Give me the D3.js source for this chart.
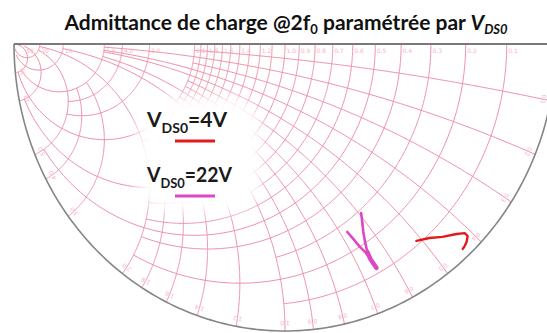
<!DOCTYPE html>
<html>
<head>
<meta charset="utf-8">
<script src="https://cdn.jsdelivr.net/npm/d3@7"></script>
<style>
  body { margin: 0; background: #fff; }
  svg { display: block; }
</style>
</head>
<body>
<svg id="chart" width="547" height="333"></svg>
<script>
// ---- data -------------------------------------------------------------
// Title pieces
const titleMain = "Admittance de charge @2f";
const titleSub = "0";
const titleMid = " paramétrée par ";
const titleVar = "V";
const titleVarSub = "DS0";

// Legend entries
const legendNames = ["V", "V"];
const legendSubs = ["DS0", "DS0"];
const legendValues = ["=4V", "=22V"];
const legendColors = ["#e3191c", "#dd47c4"];

// Measured load traces, reflection coefficient points [Re Γ, Im Γ]
const traceVds4 = [
  [0.485, -0.686], [0.533, -0.676], [0.581, -0.672], [0.633, -0.662],
  [0.663, -0.659], [0.674, -0.669], [0.670, -0.690], [0.663, -0.704],
  [0.656, -0.714]
];
const traceVds22Right = [
  [0.281, -0.589], [0.285, -0.620], [0.289, -0.655], [0.296, -0.693],
  [0.304, -0.725], [0.315, -0.749], [0.337, -0.780]
];
const traceVds22Left = [
  [0.230, -0.655], [0.252, -0.679], [0.274, -0.704], [0.296, -0.725],
  [0.307, -0.739]
];

// Smith grid: constant-conductance circles [g, last susceptance drawn]
const conductanceGrid = [
  [0.1, 1], [0.2, 2], [0.3, 1], [0.4, 2], [0.5, 5], [0.6, 2], [0.7, 1], [0.8, 2], [0.9, 1],
  [1.0, 10], [1.1, 1], [1.2, 2], [1.3, 1], [1.4, 2], [1.5, 1], [1.6, 2], [1.7, 1], [1.8, 2],
  [1.9, 1], [2.0, 20], [3.0, 5], [4.0, 5], [5.0, 20], [10, 50], [20, Infinity]
];
// constant-susceptance arcs [b, last conductance drawn]
const susceptanceGrid = [
  [0.1, 2], [0.2, 5], [0.3, 2], [0.4, 5], [0.5, 5], [0.6, 2], [0.7, 2], [0.8, 5], [0.9, 2],
  [1.0, 10], [1.2, 2], [1.4, 2], [1.6, 2], [1.8, 2], [2.0, 20], [3.0, 5], [4.0, 5],
  [5.0, 20], [10, 50], [20, Infinity]
];
// Scale labels
const axisLabels = ["0.1", "0.2", "0.3", "0.4", "0.5", "0.6", "0.7", "0.8", "0.9", "1.0",
  "1.2", "1.4", "1.6", "1.8", "2.0", "3.0", "4.0", "5.0", "10", "20", "50"];
const rimLabels = ["0.1", "0.2", "0.3", "0.4", "0.5", "0.6", "0.7", "0.8", "0.9", "1.0",
  "1.2", "1.4", "1.6", "1.8", "2.0", "3.0", "4.0", "5.0", "10", "20"];

// ---- drawing ----------------------------------------------------------
const svg = d3.select("#chart");
const W = 547;

// Γ-plane scales (lower half of the chart)
const X = d3.scaleLinear().domain([-1, 1]).range([14, 556]);
const Y = d3.scaleLinear().domain([0, -1]).range([44, 331]);

// reflection coefficient of a normalized admittance y = g + jb
function gammaOf(g, b) {
  const D = (1 + g) * (1 + g) + b * b;
  return [(1 - g * g - b * b) / D, -2 * b / D];
}
const path = d3.line().x(d => X(d[0])).y(d => Y(d[1]));

const defs = svg.append("defs");
defs.append("filter").attr("id", "soft")
  .attr("x", "-30%").attr("y", "-30%").attr("width", "160%").attr("height", "160%")
  .append("feGaussianBlur").attr("stdDeviation", 7);

const grid = svg.append("g")
  .attr("fill", "none")
  .attr("stroke", "#ef8fa9")
  .attr("stroke-width", 1);

conductanceGrid.forEach(([g, bMax]) => {
  const tMax = Math.atan(bMax);
  const pts = d3.range(0, 201).map(i => gammaOf(g, Math.tan(tMax * i / 200)));
  grid.append("path").attr("d", path(pts));
});
susceptanceGrid.forEach(([b, gMax]) => {
  const tMax = Math.atan(gMax);
  const pts = d3.range(0, 201).map(i => gammaOf(Math.tan(tMax * i / 200), b));
  grid.append("path").attr("d", path(pts));
});

// scale labels along the real axis and the rim
const lab = svg.append("g")
  .attr("font-family", "DejaVu Sans, sans-serif")
  .attr("font-size", 6)
  .attr("fill", "#f5b6c6");
axisLabels.forEach(t => {
  const p = gammaOf(+t, 0);
  lab.append("text").attr("x", X(p[0]) + 1.5).attr("y", 53).text(t);
});
rimLabels.forEach(t => {
  const p = gammaOf(0, +t);
  const px = X(p[0] * 0.965), py = Y(p[1] * 0.965);
  const ang = Math.atan2(Y(p[1]) - Y(0), X(p[0]) - X(0)) * 180 / Math.PI + 90;
  lab.append("text").attr("x", px).attr("y", py).attr("text-anchor", "middle")
    .attr("transform", `rotate(${ang},${px},${py})`).text(t);
});

// rim of the chart
const rim = d3.range(0, 181).map(i => [Math.cos(Math.PI * i / 180), -Math.sin(Math.PI * i / 180)]);
svg.append("path").attr("d", path(rim))
  .attr("fill", "none").attr("stroke", "#858585").attr("stroke-width", 1.6);
// real axis
svg.append("line")
  .attr("x1", X(-1)).attr("x2", W).attr("y1", Y(0)).attr("y2", Y(0))
  .attr("stroke", "#7a7a7a").attr("stroke-width", 2);

// clear patch behind the legend
svg.append("rect")
  .attr("x", 138).attr("y", 97).attr("width", 122).attr("height", 115)
  .attr("rx", 30).attr("fill", "#fff").attr("filter", "url(#soft)");

// traces
svg.append("path").attr("d", path(traceVds4))
  .attr("fill", "none").attr("stroke", legendColors[0]).attr("stroke-width", 2.4)
  .attr("stroke-linecap", "round").attr("stroke-linejoin", "round");
[traceVds22Right, traceVds22Left].forEach(tr => {
  svg.append("path").attr("d", path(tr))
    .attr("fill", "none").attr("stroke", legendColors[1]).attr("stroke-width", 2.6)
    .attr("stroke-linecap", "round").attr("stroke-linejoin", "round");
});
const tail = traceVds22Right.slice(-3);
svg.append("path").attr("d", path(tail))
  .attr("fill", "none").attr("stroke", legendColors[1]).attr("stroke-width", 4.5)
  .attr("stroke-linecap", "round");

// legend
const legY = [127, 182];
const legWidth = [80, 85];
legendNames.forEach((n, i) => {
  const t = svg.append("text")
    .attr("x", 147).attr("y", legY[i])
    .attr("font-family", "Lato, sans-serif").attr("font-weight", 700)
    .attr("font-size", 21).attr("fill", "#1a1a1a")
    .attr("textLength", legWidth[i]).attr("lengthAdjust", "spacingAndGlyphs");
  t.append("tspan").text(n);
  t.append("tspan").attr("font-size", 14).attr("dy", 6).text(legendSubs[i]);
  t.append("tspan").attr("dy", -6).text(legendValues[i]);
  svg.append("line")
    .attr("x1", 175).attr("x2", 215).attr("y1", legY[i] + 14).attr("y2", legY[i] + 14)
    .attr("stroke", legendColors[i]).attr("stroke-width", 3);
});

// title
const title = svg.append("text")
  .attr("x", 286).attr("y", 30).attr("text-anchor", "middle")
  .attr("font-family", "Lato, sans-serif").attr("font-weight", 700)
  .attr("font-size", 21).attr("fill", "#111");
title.append("tspan").text(titleMain);
title.append("tspan").attr("font-size", 13).attr("dy", 4).text(titleSub);
title.append("tspan").attr("dy", -4).text(titleMid);
title.append("tspan").attr("font-style", "italic").text(titleVar);
title.append("tspan").attr("font-style", "italic").attr("font-size", 13).attr("dy", 4).text(titleVarSub);
const tl = title.node().getComputedTextLength();
if (tl > 452) title.attr("textLength", 452).attr("lengthAdjust", "spacingAndGlyphs");
</script>
</body>
</html>
